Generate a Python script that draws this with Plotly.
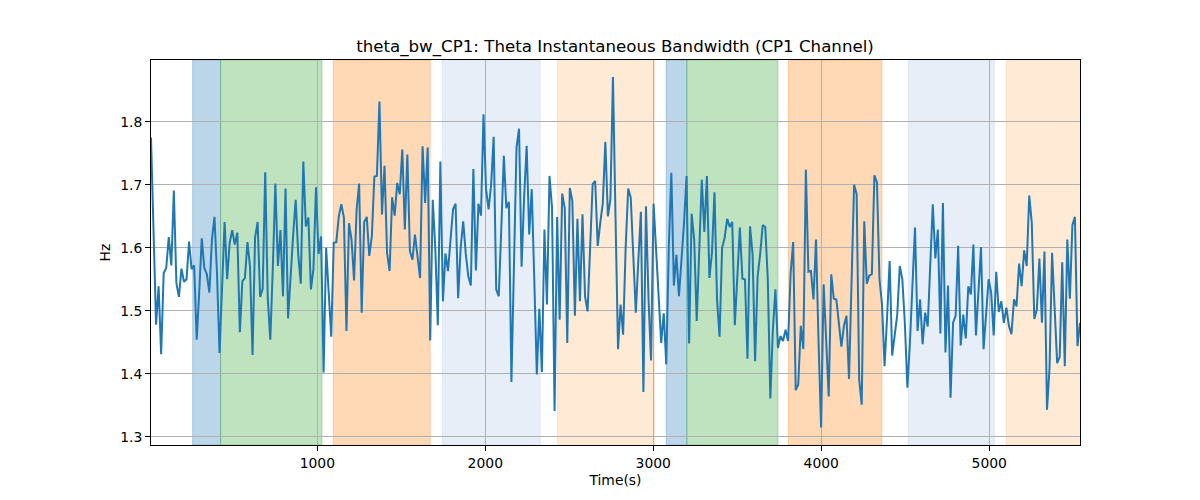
import numpy as np
import plotly.graph_objects as go

# ---- data ----
t_start = 10.0
t_step = 15.11

bw_hz = [
    1.775, 1.62, 1.478, 1.539, 1.431, 1.560, 1.568, 1.617, 1.572, 1.691,
    1.544, 1.522, 1.567, 1.546, 1.550, 1.610, 1.566, 1.572, 1.454, 1.53,
    1.615, 1.568, 1.558, 1.529, 1.613, 1.649, 1.56, 1.433, 1.53, 1.641,
    1.55, 1.608, 1.628, 1.605, 1.624, 1.466, 1.547, 1.552, 1.609, 1.571,
    1.430, 1.616, 1.641, 1.522, 1.535, 1.720, 1.52, 1.454, 1.57, 1.702,
    1.571, 1.628,
    1.523, 1.694, 1.488, 1.56, 1.62, 1.676, 1.59, 1.543, 1.737, 1.634,
    1.648, 1.534, 1.566, 1.696, 1.590, 1.618, 1.402, 1.600, 1.53, 1.459,
    1.608, 1.609, 1.650, 1.669, 1.648, 1.468, 1.639, 1.613, 1.548, 1.66,
    1.702, 1.497, 1.641, 1.649, 1.587, 1.618, 1.713, 1.714, 1.832, 1.653,
    1.730, 1.592, 1.563, 1.680, 1.651, 1.703, 1.685, 1.756, 1.629, 1.748,
    1.595, 1.581, 1.621,
    1.59, 1.552, 1.761, 1.671, 1.759, 1.453, 1.676, 1.60, 1.477, 1.737,
    1.515, 1.591, 1.563, 1.62, 1.661, 1.670, 1.520, 1.60, 1.642, 1.591,
    1.555, 1.540, 1.725, 1.564, 1.670, 1.651, 1.812, 1.693, 1.661, 1.70,
    1.776, 1.534, 1.523, 1.63, 1.746, 1.663, 1.673, 1.387, 1.58, 1.759,
    1.789, 1.570, 1.68, 1.762, 1.621, 1.693, 1.55, 1.399, 1.503, 1.403,
    1.629,
    1.510, 1.714, 1.663, 1.341, 1.649, 1.486, 1.686, 1.663, 1.449, 1.695,
    1.674, 1.492, 1.646, 1.515, 1.653, 1.523, 1.499, 1.60, 1.701, 1.706,
    1.603, 1.64, 1.671, 1.768, 1.650, 1.677, 1.871, 1.65, 1.439, 1.510,
    1.462, 1.60, 1.694, 1.680, 1.58, 1.497, 1.58, 1.657, 1.371, 1.666,
    1.52, 1.421, 1.670, 1.60, 1.52, 1.449, 1.496, 1.415, 1.60, 1.719,
    1.540, 1.589, 1.523,
    1.58, 1.64, 1.714, 1.448, 1.654, 1.613, 1.484, 1.60, 1.708, 1.625,
    1.714, 1.552, 1.592, 1.688, 1.518, 1.459, 1.600, 1.616, 1.646, 1.633,
    1.641, 1.477, 1.56, 1.632, 1.551, 1.550, 1.424, 1.634, 1.59, 1.420,
    1.555, 1.59, 1.636, 1.633, 1.55, 1.361, 1.47, 1.534, 1.441, 1.460,
    1.452, 1.470, 1.452, 1.56, 1.609, 1.374, 1.383, 1.476, 1.439, 1.724,
    1.562, 1.563, 1.518,
    1.613, 1.45, 1.315, 1.542, 1.44, 1.364, 1.558, 1.519, 1.518, 1.48,
    1.443, 1.476, 1.492, 1.392, 1.55, 1.700, 1.685, 1.391, 1.351, 1.642,
    1.543, 1.556, 1.558, 1.715, 1.704, 1.550, 1.51, 1.412, 1.49, 1.579,
    1.429, 1.465, 1.494, 1.571, 1.550, 1.48, 1.378, 1.45, 1.53, 1.632,
    1.468, 1.518, 1.447, 1.497, 1.475, 1.56, 1.669, 1.583, 1.629, 1.464,
    1.671, 1.434,
    1.540, 1.362, 1.481, 1.492, 1.603, 1.445, 1.494, 1.456, 1.539, 1.526,
    1.605, 1.461, 1.53, 1.601, 1.439, 1.50, 1.550, 1.529, 1.461, 1.562,
    1.498, 1.515, 1.481, 1.505, 1.476, 1.463, 1.518, 1.507, 1.575, 1.539,
    1.596, 1.571, 1.683, 1.640, 1.487, 1.502, 1.583, 1.481, 1.594, 1.343,
    1.41, 1.592, 1.50, 1.417, 1.427, 1.577, 1.412, 1.613, 1.519, 1.636,
    1.649, 1.444, 1.481,
]
time_s = t_start + t_step * np.arange(len(bw_hz))

# shaded phases: (start, end, colour kind)
span_starts = [258, 424, 1095, 1744, 2429, 3077, 3200, 3805, 4518, 5101]
span_ends = [424, 1028, 1672, 2327, 3006, 3200, 3742, 4361, 5030, 5545]
span_kinds = ["blue", "green", "orange", "lightblue", "lightorange",
              "blue", "green", "orange", "lightblue", "lightorange"]

y_ticks = [1.3, 1.4, 1.5, 1.6, 1.7, 1.8]
x_ticks = [1000, 2000, 3000, 4000, 5000]

title = "theta_bw_CP1: Theta Instantaneous Bandwidth (CP1 Channel)"

# ---- figure ----
kind_rgb = {
    "blue": (31, 119, 180),
    "green": (44, 160, 44),
    "orange": (255, 127, 14),
    "lightblue": (174, 199, 232),
    "lightorange": (255, 187, 120),
}

fig = go.Figure()
for s, e, k in zip(span_starts, span_ends, span_kinds):
    r, g, b = kind_rgb[k]
    fig.add_shape(type="rect", xref="x", yref="paper", x0=s, x1=e, y0=0, y1=1,
                  fillcolor=f"rgba({r},{g},{b},0.3)",
                  line=dict(color=f"rgba({r},{g},{b},0.3)", width=1),
                  layer="below")

fig.add_trace(go.Scatter(x=time_s, y=bw_hz, mode="lines",
                         line=dict(color="#1f77b4", width=2),
                         showlegend=False, hoverinfo="x+y"))

axis_common = dict(showline=True, linecolor="black", linewidth=1, mirror=True,
                   ticks="outside", ticklen=5, tickcolor="black",
                   showgrid=True, gridcolor="#b0b0b0", gridwidth=1,
                   zeroline=False,
                   tickfont=dict(family="DejaVu Sans", size=13.9, color="black"))

# the page adds an 8px body margin, compensated here
fig.update_layout(
    width=1200, height=500,
    margin=dict(l=143, r=128, t=52, b=63),
    paper_bgcolor="white", plot_bgcolor="white",
    font=dict(family="DejaVu Sans", color="black"),
    title=dict(text=title, x=607 / 1200, xanchor="center", y=1 - 38 / 500,
               yanchor="middle", yref="container",
               font=dict(family="DejaVu Sans", size=16.67, color="black")),
    xaxis=dict(range=[time_s[0], time_s[-1]], tickvals=x_ticks,
               title=dict(text="Time(s)", standoff=5,
                          font=dict(family="DejaVu Sans", size=13.9)),
               **axis_common),
    yaxis=dict(range=[1.287, 1.898], tickvals=y_ticks,
               tickformat=".1f",
               title=dict(text="Hz", standoff=6,
                          font=dict(family="DejaVu Sans", size=13.9)),
               **axis_common),
)

fig.write_html("out.html")
